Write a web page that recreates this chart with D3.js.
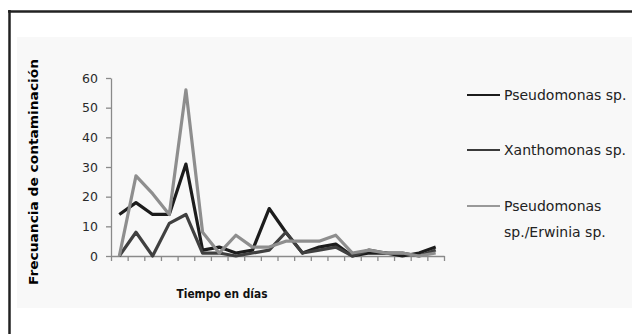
<!DOCTYPE html>
<html>
<head>
<meta charset="utf-8">
<script src="https://cdn.jsdelivr.net/npm/d3@7"></script>
<style>
  html, body { margin: 0; padding: 0; background: #fff; }
  svg { display: block; }
</style>
</head>
<body>
<svg id="chart" width="632" height="334"></svg>
<script>
// ---- data ----
const days = d3.range(1, 21);
const pseudomonas = [14, 18, 14, 14, 31, 2, 3, 1, 2, 16, 8, 1, 3, 4, 0, 1, 1, 0, 1, 3];
const xanthomonas = [0, 8, 0, 11, 14, 1, 1, 0, 1, 2, 8, 1, 2, 3, 0, 2, 1, 1, 0, 2];
const erwinia     = [0, 27, 21, 14, 56, 8, 1, 7, 3, 3, 5, 5, 5, 7, 1, 2, 1, 1, 0, 1];
const seriesNames = ["Pseudomonas sp.", "Xanthomonas sp.", "Pseudomonas sp./Erwinia sp."];
const legendLines = [["Pseudomonas sp."], ["Xanthomonas sp."], ["Pseudomonas", "sp./Erwinia sp."]];
const yTicks = [0, 10, 20, 30, 40, 50, 60];
const colors = ["#1c1c1c", "#404040", "#8e8e8e"];
const legendColors = ["#1c1c1c", "#3a3a3a", "#999999"];

const series = [pseudomonas, xanthomonas, erwinia];

const svg = d3.select("#chart");

// frame
svg.append("rect").attr("x", 17).attr("y", 37).attr("width", 615).attr("height", 271).attr("fill", "#f8f8f8");
svg.append("line").attr("x1", 8).attr("x2", 632).attr("y1", 11.5).attr("y2", 11.5).attr("stroke", "#222").attr("stroke-width", 2.5);
svg.append("line").attr("x1", 9.5).attr("x2", 9.5).attr("y1", 10).attr("y2", 334).attr("stroke", "#222").attr("stroke-width", 2.5);

const x0 = 111, x1 = 444, y0 = 256, y1 = 78;
const x = d3.scaleBand().domain(days).range([x0, x1]).padding(0);
const xEdge = d3.scaleLinear().domain([0, days.length]).range([x0, x1]);
const y = d3.scaleLinear().domain([0, 60]).range([y0, y1]);

// y axis
const yAxis = svg.append("g").attr("transform", `translate(${x0},0)`)
  .call(d3.axisLeft(y).tickValues(yTicks).tickSize(5).tickPadding(8).tickSizeOuter(0));
yAxis.select(".domain").attr("stroke", "#8a8a8a").attr("stroke-width", 1.3);
yAxis.selectAll(".tick line").attr("stroke", "#8a8a8a").attr("stroke-width", 1.3);
yAxis.selectAll(".tick text").attr("fill", "#2a2a2a")
  .style("font-family", "DejaVu Sans").style("font-size", "12.5px");

// x axis (no labels, ticks between categories)
const xAxis = svg.append("g").attr("transform", `translate(0,${y0})`)
  .call(d3.axisBottom(xEdge).tickValues(d3.range(0, days.length + 1)).tickSize(5).tickFormat("").tickSizeOuter(0));
xAxis.select(".domain").attr("stroke", "#8a8a8a").attr("stroke-width", 1.3);
xAxis.selectAll(".tick line").attr("stroke", "#8a8a8a").attr("stroke-width", 1.3);

// lines
const line = d3.line()
  .x((d, i) => x(days[i]) + x.bandwidth() / 2)
  .y(d => y(d));

series.forEach((s, k) => {
  svg.append("path").datum(s)
    .attr("d", line)
    .attr("fill", "none")
    .attr("stroke", colors[k])
    .attr("stroke-width", 3.2)
    .attr("stroke-linejoin", "round");
});

// axis titles
svg.append("text")
  .attr("transform", "translate(38,172) rotate(-90)")
  .attr("text-anchor", "middle")
  .attr("fill", "#000")
  .style("font-family", "DejaVu Sans").style("font-weight", "bold").style("font-size", "12px")
  .attr("textLength", 226).attr("lengthAdjust", "spacingAndGlyphs")
  .text("Frecuancia de contaminación");

svg.append("text")
  .attr("x", 222).attr("y", 298)
  .attr("text-anchor", "middle")
  .attr("fill", "#111")
  .style("font-family", "DejaVu Sans").style("font-weight", "bold").style("font-size", "12.5px")
  .attr("textLength", 91).attr("lengthAdjust", "spacingAndGlyphs")
  .text("Tiempo en días");

// legend
const legendY = [95, 150, 206];
const lg = svg.append("g");
legendLines.forEach((lines, k) => {
  lg.append("line")
    .attr("x1", 467).attr("x2", 500)
    .attr("y1", legendY[k]).attr("y2", legendY[k])
    .attr("stroke", legendColors[k]).attr("stroke-width", 2);
  lines.forEach((t, j) => {
    lg.append("text")
      .attr("x", 504).attr("y", legendY[k] + 5 + j * 26)
      .attr("fill", "#222")
      .style("font-family", "DejaVu Sans").style("font-size", "14px")
      .text(t);
  });
});
</script>
</body>
</html>
